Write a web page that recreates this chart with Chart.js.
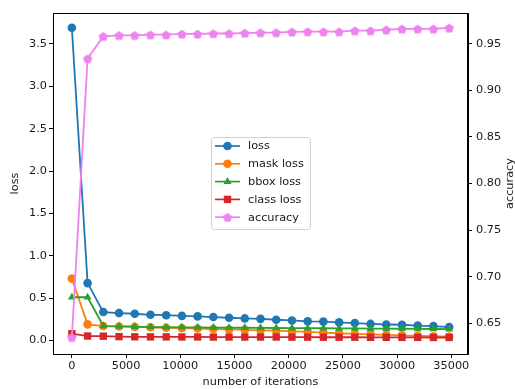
<!DOCTYPE html>
<html>
<head>
<meta charset="utf-8">
<script src="https://cdn.jsdelivr.net/npm/chart.js@4.4.0/dist/chart.umd.min.js"></script>
<style>
    html, body { margin: 0; padding: 0; background: #fff; }
    #wrap { width: 515px; height: 389px; position: relative; }
</style>
</head>
<body>
<div id="wrap"><canvas id="chart" width="515" height="389"></canvas></div>
<script>
// =============================================================================
// DATA - gelezen uit de referentie
// =============================================================================
const iterations = [0, 1450, 2900, 4350, 5800, 7250, 8700, 10150, 11600, 13050, 14500, 15950,
    17400, 18850, 20300, 21750, 23200, 24650, 26100, 27550, 29000, 30450, 31900, 33350, 34800];

const lossValues = [3.69, 0.677, 0.335, 0.323, 0.315, 0.303, 0.298, 0.29, 0.284, 0.276, 0.268, 0.26,
    0.255, 0.244, 0.236, 0.226, 0.222, 0.213, 0.205, 0.195, 0.188, 0.185, 0.175, 0.17, 0.158];
const maskLossValues = [0.73, 0.19, 0.17, 0.165, 0.16, 0.155, 0.15, 0.145, 0.14, 0.135, 0.13, 0.125,
    0.12, 0.115, 0.108, 0.1, 0.093, 0.085, 0.078, 0.072, 0.066, 0.06, 0.055, 0.05, 0.045];
const bboxLossValues = [0.51, 0.51, 0.17, 0.165, 0.162, 0.158, 0.156, 0.155, 0.153, 0.152, 0.15, 0.15,
    0.148, 0.147, 0.146, 0.145, 0.144, 0.143, 0.142, 0.14, 0.139, 0.138, 0.136, 0.135, 0.133];
const classLossValues = [0.08, 0.052, 0.05, 0.045, 0.043, 0.042, 0.042, 0.041, 0.041, 0.04, 0.04, 0.04,
    0.04, 0.04, 0.039, 0.039, 0.038, 0.038, 0.038, 0.037, 0.037, 0.036, 0.036, 0.035, 0.035];
const accuracyValues = [0.635, 0.934, 0.958, 0.959, 0.959, 0.9597, 0.9597, 0.9605, 0.9605, 0.961, 0.961, 0.9615,
    0.962, 0.962, 0.9627, 0.963, 0.963, 0.963, 0.964, 0.964, 0.965, 0.966, 0.966, 0.966, 0.967];

const xTicks = [0, 5000, 10000, 15000, 20000, 25000, 30000, 35000];
const lossTicks = [0, 0.5, 1.0, 1.5, 2.0, 2.5, 3.0, 3.5];
const accTicks = [0.65, 0.70, 0.75, 0.80, 0.85, 0.90, 0.95];

// =============================================================================
// STIJL
// =============================================================================
const FONT = "'DejaVu Sans', sans-serif";
const FS = 11.3;
const TXT = '#1a1a1a';

function pentagon(color, r) {
    const c = document.createElement('canvas');
    const s = Math.ceil(r * 2 + 2);
    c.width = s; c.height = s;
    const g = c.getContext('2d');
    g.fillStyle = color;
    g.beginPath();
    for (let i = 0; i < 5; i++) {
        const a = -Math.PI / 2 + i * 2 * Math.PI / 5;
        const px = s / 2 + r * Math.cos(a), py = s / 2 + 0.6 + r * Math.sin(a);
        i === 0 ? g.moveTo(px, py) : g.lineTo(px, py);
    }
    g.closePath();
    g.fill();
    return c;
}
const accMarker = pentagon('#ee82ee', 4.9);

const series = [
    { label: 'loss', data: lossValues, color: '#1f77b4', style: 'circle', r: 4.3, axis: 'y' },
    { label: 'mask loss', data: maskLossValues, color: '#ff7f0e', style: 'circle', r: 4.3, axis: 'y' },
    { label: 'bbox loss', data: bboxLossValues, color: '#2ca02c', style: 'triangle', r: 4.6, axis: 'y' },
    { label: 'class loss', data: classLossValues, color: '#d62728', style: 'rect', r: 5.2, axis: 'y' },
    { label: 'accuracy', data: accuracyValues, color: '#ee82ee', style: accMarker, r: 5, axis: 'y1' }
];

// legenda + kader + rechter astitel, matplotlib-achtig
const extras = {
    id: 'extras',
    afterDraw(chart) {
        const { ctx, chartArea: a } = chart;
        ctx.save();
        ctx.strokeStyle = '#000';
        ctx.lineWidth = 1;
        ctx.strokeRect(Math.round(a.left) + 0.5, Math.round(a.top) + 0.5,
            Math.round(a.right - a.left) - 1, Math.round(a.bottom - a.top));

        // rechter titel
        ctx.fillStyle = TXT;
        ctx.font = `${FS}px ${FONT}`;
        ctx.textAlign = 'center';
        ctx.textBaseline = 'middle';
        ctx.translate(510, (a.top + a.bottom) / 2);
        ctx.rotate(-Math.PI / 2);
        ctx.fillText('accuracy', 0, 0);
        ctx.restore();

        // legenda
        ctx.save();
        const bx = 211, by = 137, bw = 99, bh = 92;
        ctx.beginPath();
        ctx.roundRect(bx + 0.5, by + 0.5, bw, bh, 3);
        ctx.fillStyle = 'rgba(255,255,255,0.8)';
        ctx.fill();
        ctx.strokeStyle = '#d0d0d0';
        ctx.lineWidth = 1;
        ctx.stroke();
        ctx.font = `${FS}px ${FONT}`;
        ctx.textAlign = 'left';
        ctx.textBaseline = 'middle';
        series.forEach((s, i) => {
            const y = 146 + i * 17.8;
            ctx.strokeStyle = s.color;
            ctx.lineWidth = 1.7;
            ctx.beginPath();
            ctx.moveTo(215, y);
            ctx.lineTo(240, y);
            ctx.stroke();
            ctx.fillStyle = s.color;
            const mx = 227.5;
            if (s.style === 'circle') {
                ctx.beginPath(); ctx.arc(mx, y, 4.3, 0, Math.PI * 2); ctx.fill();
            } else if (s.style === 'triangle') {
                ctx.beginPath();
                ctx.moveTo(mx, y - 4.6); ctx.lineTo(mx + 4, y + 2.4); ctx.lineTo(mx - 4, y + 2.4);
                ctx.closePath(); ctx.fill();
            } else if (s.style === 'rect') {
                ctx.fillRect(mx - 3.7, y - 3.7, 7.4, 7.4);
            } else {
                ctx.drawImage(s.style, mx - s.style.width / 2, y - s.style.height / 2);
            }
            ctx.fillStyle = TXT;
            ctx.fillText(s.label, 248, y + 0.5);
        });
        ctx.restore();
    }
};

const tickFont = { family: FONT, size: FS };
const tickMarks = { display: true, drawOnChartArea: false, drawTicks: true, tickLength: 4, color: '#000' };

new Chart(document.getElementById('chart'), {
    type: 'line',
    data: {
        datasets: series.map((s, i) => ({
            label: s.label,
            data: iterations.map((x, k) => ({ x, y: s.data[k] })),
            yAxisID: s.axis,
            borderColor: s.color,
            backgroundColor: s.color,
            borderWidth: 1.8,
            pointStyle: s.style,
            pointRadius: s.r,
            pointBorderWidth: 0,
            pointBackgroundColor: s.color,
            tension: 0,
            fill: false,
            order: series.length - i
        }))
    },
    options: {
        responsive: false,
        animation: false,
        layout: { padding: { top: 13, left: 0, right: 0, bottom: 0 } },
        plugins: { legend: { display: false }, tooltip: { enabled: false } },
        scales: {
            x: {
                type: 'linear',
                min: -1740,
                max: 36540,
                afterBuildTicks: s => { s.ticks = xTicks.map(v => ({ value: v })); },
                afterFit: s => { s.height = 35; },
                ticks: { font: tickFont, color: TXT, padding: 1, maxRotation: 0, autoSkip: false, callback: v => String(v) },
                grid: tickMarks,
                border: { display: true, color: '#000', width: 1 },
                title: { display: true, text: 'number of iterations', color: TXT, font: tickFont, padding: { top: 0, bottom: 0 } }
            },
            y: {
                position: 'left',
                min: -0.16,
                max: 3.865,
                afterBuildTicks: s => { s.ticks = lossTicks.map(v => ({ value: v })); },
                afterFit: s => { s.width = 53; },
                ticks: { font: tickFont, color: TXT, padding: 2, callback: v => v.toFixed(1) },
                grid: tickMarks,
                border: { display: true, color: '#000', width: 1 },
                title: { display: true, text: 'loss', color: TXT, font: tickFont, padding: { top: 8.1, bottom: 0 } }
            },
            y1: {
                position: 'right',
                min: 0.617,
                max: 0.983,
                afterBuildTicks: s => { s.ticks = accTicks.map(v => ({ value: v })); },
                afterFit: s => { s.width = 47; },
                ticks: { font: tickFont, color: TXT, padding: 4, callback: v => v.toFixed(2) },
                grid: tickMarks,
                border: { display: true, color: '#000', width: 1 }
            }
        }
    },
    plugins: [extras]
});
</script>
</body>
</html>
